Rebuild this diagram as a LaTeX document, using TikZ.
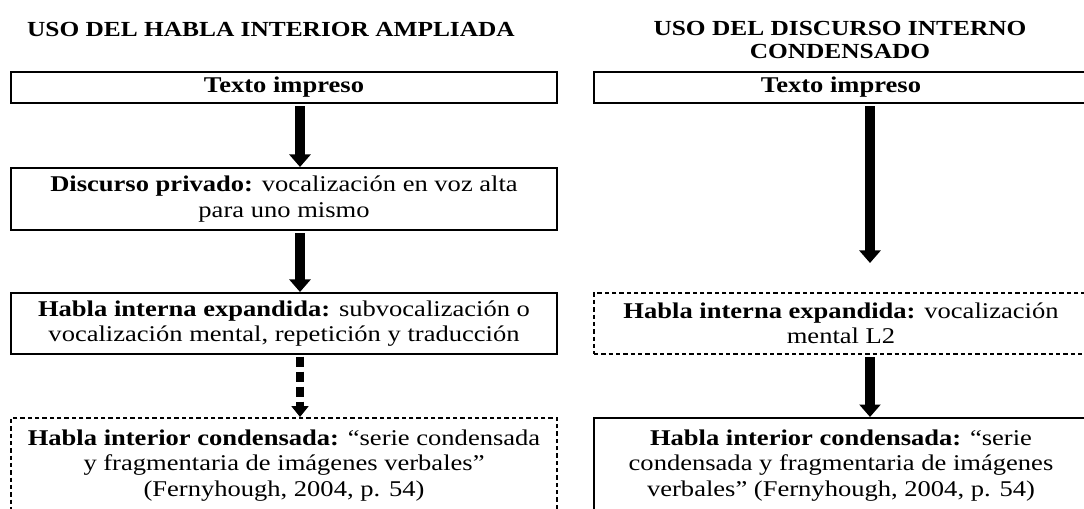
\documentclass[tikz,border=0pt]{standalone}
\usepackage{fontspec}
\setmainfont{Liberation Serif}[FakeStretch=1.18]
\usetikzlibrary{arrows.meta, calc}

\tikzset{
	caja/.style={draw, line width=1.2pt, align=center, inner sep=0pt, font=\fontsize{13.5}{15.3}\selectfont},
	cajaguion/.style={caja, dash pattern=on 2.6pt off 1.8pt},
	cajaizq/.style={minimum width=327.6pt},
	cajader/.style={minimum width=296.4pt},
	titulo/.style={align=center, inner sep=0pt, font=\fontsize{12.9}{13.5}\selectfont\bfseries},
	flecha/.style={line width=6pt, -{Triangle[width=12.5pt,length=7.5pt]}, shorten <=1.5pt},
	flechaguion/.style={line width=5pt, -{Triangle[width=10pt,length=6.5pt]}, dash pattern=on 6pt off 3pt, shorten <=1pt},
}

\begin{document}
\begin{tikzpicture}[x=0.6pt, y=-0.6pt]
	\useasboundingbox (0,0) rectangle (1084,509);

	\node[titulo] (tizq) at (271,29) {USO DEL HABLA INTERIOR AMPLIADA};
	\node[titulo] (tder) at (840,40) {USO DEL DISCURSO INTERNO\\CONDENSADO};

	\node[caja, cajaizq, minimum height=18.6pt] (ti1) at (284,87.5) {\textbf{Texto impreso}};
	\node[caja, cajaizq, minimum height=37.2pt] (dp1) at (284,199) {\textbf{Discurso privado:} vocalización en voz alta\\para uno mismo};
	\node[caja, cajaizq, minimum height=36.6pt] (he1) at (284,323.5) {\textbf{Habla interna expandida:} subvocalización o\\vocalización mental, repetición y traducción};
	\node[cajaguion, cajaizq, minimum height=57pt] (hc1) at (284,465.5) {\textbf{Habla interior condensada:} “serie condensada\\y fragmentaria de imágenes verbales”\\(Fernyhough, 2004, p. 54)};

	\node[caja, cajader, minimum height=18.6pt] (ti2) at (841,87.5) {\textbf{Texto impreso}};
	\node[cajaguion, cajader, minimum height=36.6pt] (he2) at (841,323.5) {\textbf{Habla interna expandida:} vocalización\\mental L2};
	\node[caja, cajader, minimum height=57pt] (hc2) at (841,465.5) {\textbf{Habla interior condensada:} “serie\\condensada y fragmentaria de imágenes\\verbales” (Fernyhough, 2004, p. 54)};

	\coordinate (punta) at ($(ti2.south)+(29,159)$);

	\draw[flecha] ($(ti1.south)+(16,0)$) -- ($(dp1.north)+(16,0)$);
	\draw[flecha] ($(dp1.south)+(16,0)$) -- ($(he1.north)+(16,0)$);
	\draw[flechaguion] ($(he1.south)+(16,0)$) -- ($(hc1.north)+(16,0)$);

	\draw[flecha] ($(ti2.south)+(29,0)$) -- (punta);
	\draw[flecha] ($(he2.south)+(29,0)$) -- ($(hc2.north)+(29,0)$);
\end{tikzpicture}
\end{document}
